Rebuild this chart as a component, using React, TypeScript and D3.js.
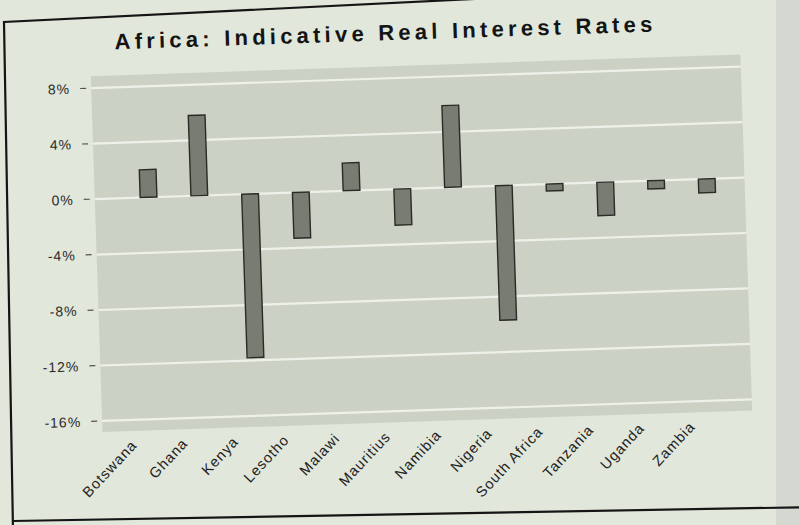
import React from "react";
import * as d3 from "d3";

// Indicative real interest rates by country (percent)
const countries = [
  "Botswana", "Ghana", "Kenya", "Lesotho", "Malawi", "Mauritius",
  "Namibia", "Nigeria", "South Africa", "Tanzania", "Uganda", "Zambia",
];
const realRates = [2.0, 5.8, -11.8, -3.3, 2.0, -2.6, 5.9, -9.7, -0.5, -2.4, -0.6, -1.0];
const yTickValues = [8, 4, 0, -4, -8, -12, -16];
const chartTitle = "Africa: Indicative Real Interest Rates";

const W = 799;
const H = 525;
const FONT = "'Liberation Sans', Arial, Helvetica, sans-serif";

export default function App() {
  const plot = { left: 97, right: 747, top: 66, bottom: 422 };

  const y = d3.scaleLinear().domain([-16, 8]).range([411, 78]);
  const x = d3
    .scaleBand<string>()
    .domain(countries)
    .range([125.4, 734.6])
    .paddingInner(0.67)
    .paddingOuter(0.335);

  const data = countries.map((c, i) => ({ country: c, value: realRates[i] }));
  const fmt = (d: number) => `${d}%`;

  // chart border, slightly skewed on the page
  const border = d3.line()([
    [820, -18],
    [4, 22],
    [13, 530],
  ]);
  const bottomEdge = d3.line()([
    [13, 521],
    [820, 507],
  ]);

  return (
    <svg
      width={W}
      height={H}
      style={{ position: "absolute", left: 0, top: 0, display: "block" }}
    >
      <rect x={0} y={0} width={W} height={H} fill="#e1e7db" />
      <rect x={776} y={0} width={W - 776} height={H} fill="#d4d8d0" />

      <path d={border ?? ""} fill="none" stroke="#151515" strokeWidth={2.2} />
      <path d={bottomEdge ?? ""} fill="none" stroke="#151515" strokeWidth={2.2} />

      <g transform="rotate(-1.9, 400, 260)">
        <text
          x={391}
          y={40}
          textAnchor="middle"
          fontFamily={FONT}
          fontWeight="bold"
          fontSize={22}
          fill="#141414"
          textLength={538}
          lengthAdjust="spacing"
        >
          {chartTitle}
        </text>

        {/* plot area */}
        <rect
          x={plot.left}
          y={plot.top}
          width={plot.right - plot.left}
          height={plot.bottom - plot.top}
          fill="#ccd1c6"
        />

        {/* gridlines */}
        {yTickValues.map((t) => (
          <line
            key={`g${t}`}
            x1={plot.left}
            x2={plot.right}
            y1={y(t)}
            y2={y(t)}
            stroke="#eef1e9"
            strokeWidth={2.2}
          />
        ))}

        {/* y axis ticks and labels */}
        {yTickValues.map((t) => (
          <g key={`t${t}`}>
            <line x1={86} x2={92} y1={y(t)} y2={y(t)} stroke="#555" strokeWidth={1.2} />
            <text
              x={76}
              y={y(t)}
              dy="0.36em"
              textAnchor="end"
              fontFamily={FONT}
              fontSize={14}
              letterSpacing={1}
              fill="#2a2a2a"
            >
              {fmt(t)}
            </text>
          </g>
        ))}

        {/* bars */}
        {data.map((d) => {
          const y0 = y(0);
          const y1 = y(d.value);
          return (
            <rect
              key={d.country}
              x={x(d.country)}
              y={Math.min(y0, y1)}
              width={x.bandwidth()}
              height={Math.abs(y1 - y0)}
              fill="#797c72"
              stroke="#2a2b27"
              strokeWidth={1.4}
            />
          );
        })}

        {/* category labels */}
        {countries.map((c) => {
          const cx = (x(c) ?? 0) + x.bandwidth() / 2;
          return (
            <text
              key={`l${c}`}
              transform={`translate(${cx - 19}, 437) rotate(-45)`}
              textAnchor="end"
              fontFamily={FONT}
              fontSize={14.5}
              letterSpacing={1}
              fill="#222"
            >
              {c}
            </text>
          );
        })}
      </g>
    </svg>
  );
}
